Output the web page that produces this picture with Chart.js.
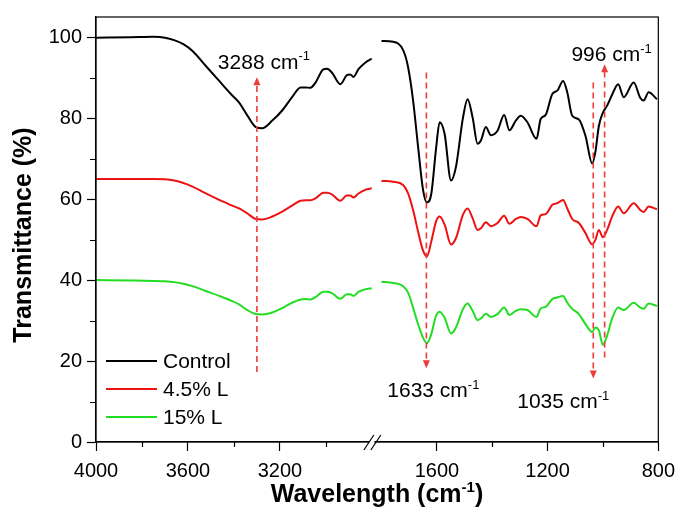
<!DOCTYPE html>
<html>
<head>
<meta charset="utf-8">
<script src="https://cdn.jsdelivr.net/npm/chart.js@4.4.1/dist/chart.umd.min.js"></script>
<style>
  html, body { margin: 0; padding: 0; background: #fff; }
</style>
</head>
<body>
<canvas id="myChart" width="683" height="523"></canvas>
<script>
const seriesNames = ['Control', '4.5% L', '15% L'];
const seriesColors = ['#000000', '#ee1111', '#22dd22'];

// 4000-2800 cm-1 part
const leftWavenumbers = [4000, 3850, 3750, 3700, 3660, 3620, 3580, 3522, 3464, 3407, 3378, 3342, 3305, 3277, 3233, 3190,
    3147, 3110, 3089, 3067, 3045, 3010, 2995, 2974, 2937, 2909, 2894, 2880, 2858, 2829, 2800];
const leftControl = [99.9, 100.0, 100.1, 99.9, 99.3, 98.3, 96.6, 92.9, 89.2, 85.6, 83.9, 80.7, 77.8, 77.5, 79.4, 81.9,
    85.2, 87.6, 87.6, 87.5, 88.8, 92.1, 92.2, 91.3, 88.4, 90.6, 90.8, 90.2, 92.1, 93.7, 94.7];
const left45 = [65.0, 65.0, 65.0, 64.9, 64.6, 64.0, 63.1, 61.4, 59.8, 58.4, 57.7, 56.5, 55.1, 55.0, 55.7, 56.9,
    58.4, 59.6, 59.7, 59.7, 60.2, 61.6, 61.6, 61.2, 59.6, 60.9, 60.9, 60.4, 61.4, 62.3, 62.7];
const left15 = [40.0, 39.9, 39.8, 39.7, 39.5, 39.1, 38.5, 37.3, 36.1, 34.8, 34.0, 32.6, 31.6, 31.5, 32.0, 33.1,
    34.4, 35.2, 35.3, 35.2, 35.8, 37.1, 37.1, 36.8, 35.4, 36.5, 36.5, 36.1, 37.1, 37.7, 38.0];

// 1800-800 cm-1 part
const rightWavenumbers = [1800, 1758, 1722, 1704, 1686, 1668, 1650, 1636, 1620, 1603, 1590, 1572, 1549, 1531,
    1506, 1489, 1471, 1453, 1441, 1423, 1405, 1381, 1357, 1338, 1315, 1297, 1273, 1240, 1225, 1207, 1183,
    1165, 1144, 1129, 1111, 1087, 1063, 1039, 1027, 1015, 1000, 985, 967, 945, 925, 889, 865, 853, 835, 805];
const rightControl = [99.1, 98.9, 96.8, 92.6, 84.4, 73.0, 62.3, 59.2, 61.4, 72.5, 79.0, 76.1, 64.6, 68.0,
    80.0, 84.7, 80.2, 73.7, 74.5, 77.8, 75.8, 76.9, 80.8, 77.0, 79.4, 80.6, 79.0, 74.9, 79.8, 80.8, 86.0,
    86.8, 89.2, 86.4, 80.6, 79.7, 75.6, 68.8, 71.8, 78.0, 81.4, 83.1, 85.8, 88.4, 85.2, 88.8, 85.0, 84.4, 86.4, 84.7];
const right45 = [64.5, 64.3, 63.5, 61.4, 57.3, 52.0, 47.3, 45.9, 49.6, 54.5, 55.7, 53.7, 48.8, 50.4,
    56.1, 57.7, 55.3, 52.4, 52.8, 54.3, 53.3, 54.1, 55.9, 53.9, 55.1, 55.6, 55.1, 53.3, 56.0, 56.3, 58.6,
    59.0, 59.8, 57.7, 55.1, 54.1, 51.6, 48.8, 50.0, 52.4, 50.6, 52.4, 55.7, 58.2, 56.5, 59.0, 57.3, 56.8, 58.2, 57.5];
const right15 = [39.6, 39.3, 38.5, 36.9, 33.2, 29.1, 25.8, 24.4, 26.7, 31.2, 32.2, 30.7, 26.8, 28.3,
    32.8, 34.2, 32.4, 30.1, 30.5, 31.7, 30.9, 31.6, 33.2, 31.4, 32.4, 32.8, 32.6, 30.9, 33.0, 33.4, 35.3,
    35.7, 36.1, 34.4, 32.9, 31.6, 29.1, 27.2, 28.3, 27.6, 24.0, 26.3, 30.5, 33.2, 32.6, 34.4, 33.2, 32.9, 34.2, 33.6];

const leftTicks = [4000, 3600, 3200];
const leftMinorTicks = [3800, 3400, 3000];
const rightTicks = [1600, 1200, 800];
const rightMinorTicks = [1400, 1000];
const yTicks = [0, 20, 40, 60, 80, 100];
const yMinorTicks = [10, 30, 50, 70, 90];

const peakWavenumbers = [3300, 1638, 1035, 994];
const peakLabels = ['3288', '1633', '1035', '996'];

// arrow geometry: axis, start/end transmittance, label offsets (px)
const arrowLayout = [
    { axis: 'xL', from: 17.3, to: 90.1, dx: 7, dy: -8 },
    { axis: 'xR', from: 91.3, to: 18.2, dx: 7, dy: 29 },
    { axis: 'xR', from: 88.8, to: 15.7, dx: -30, dy: 30 },
    { axis: 'xR', from: 20.9, to: 93.3, dx: 7, dy: -3 },
];

const FONT = "'Liberation Sans', Arial, Helvetica, sans-serif";
Chart.defaults.font.family = FONT;
Chart.defaults.color = '#000';

function makeSet(label, color, xs, ys, axis) {
    return {
        label: label,
        data: xs.map((x, i) => ({ x: x, y: ys[i] })),
        xAxisID: axis,
        yAxisID: 'y',
        borderColor: color,
        borderWidth: 2,
        pointRadius: 0,
        cubicInterpolationMode: 'monotone',
        fill: false,
    };
}

function supText(ctx, base, sup, tail, x, y, size, supSize, weight) {
    ctx.font = weight + ' ' + size + 'px ' + FONT;
    const wb = ctx.measureText(base).width;
    const wt = ctx.measureText(tail).width;
    ctx.font = weight + ' ' + supSize + 'px ' + FONT;
    const ws = ctx.measureText(sup).width;
    const x0 = x - (wb + ws + wt) / 2;
    ctx.textAlign = 'left';
    ctx.textBaseline = 'alphabetic';
    ctx.font = weight + ' ' + size + 'px ' + FONT;
    ctx.fillText(base, x0, y);
    ctx.font = weight + ' ' + supSize + 'px ' + FONT;
    ctx.fillText(sup, x0 + wb, y - size * 0.42);
    ctx.font = weight + ' ' + size + 'px ' + FONT;
    ctx.fillText(tail, x0 + wb + ws, y);
}

const decor = {
    id: 'decor',
    afterDraw(chart) {
        const ctx = chart.ctx;
        const a = chart.chartArea;
        const y = chart.scales.y;
        ctx.save();

        // frame
        ctx.strokeStyle = '#000';
        ctx.lineWidth = 1.2;
        ctx.strokeRect(a.left, a.top, a.right - a.left, a.bottom - a.top);

        // minor ticks
        ctx.beginPath();
        yMinorTicks.forEach(v => {
            const py = Math.round(y.getPixelForValue(v)) + 0.5;
            ctx.moveTo(a.left, py); ctx.lineTo(a.left - 6, py);
        });
        [['xL', leftMinorTicks], ['xR', rightMinorTicks]].forEach(([id, list]) => {
            list.forEach(v => {
                const px = Math.round(chart.scales[id].getPixelForValue(v)) + 0.5;
                ctx.moveTo(px, a.bottom); ctx.lineTo(px, a.bottom + 5);
            });
        });
        ctx.stroke();

        // axis break
        const bx = chart.scales.xL.right;
        ctx.fillStyle = '#fff';
        ctx.fillRect(bx - 2.5, a.bottom - 2, 5, 4);
        ctx.beginPath();
        ctx.moveTo(bx - 8, a.bottom + 8); ctx.lineTo(bx + 2, a.bottom - 7);
        ctx.moveTo(bx - 1, a.bottom + 8); ctx.lineTo(bx + 9, a.bottom - 7);
        ctx.stroke();

        // peak arrows
        peakWavenumbers.forEach((w, i) => {
            const L = arrowLayout[i];
            const px = chart.scales[L.axis].getPixelForValue(w);
            const y0 = y.getPixelForValue(L.from);
            const y1 = y.getPixelForValue(L.to);
            const dir = y1 < y0 ? 1 : -1;
            ctx.strokeStyle = '#ee3b3b';
            ctx.fillStyle = '#ee3b3b';
            ctx.lineWidth = 1.6;
            ctx.setLineDash([6, 4]);
            ctx.beginPath();
            ctx.moveTo(px, y0); ctx.lineTo(px, y1 + dir * 7);
            ctx.stroke();
            ctx.setLineDash([]);
            ctx.beginPath();
            ctx.moveTo(px, y1);
            ctx.lineTo(px - 3.5, y1 + dir * 8);
            ctx.lineTo(px + 3.5, y1 + dir * 8);
            ctx.closePath();
            ctx.fill();
            ctx.fillStyle = '#000';
            supText(ctx, peakLabels[i] + ' cm', '-1', '', px + L.dx, y1 + L.dy, 21, 13, 'normal');
        });

        // legend
        const ly = y.getPixelForValue(20);
        ctx.lineWidth = 2;
        ctx.font = '21px ' + FONT;
        ctx.textAlign = 'left';
        ctx.textBaseline = 'middle';
        seriesNames.forEach((name, i) => {
            const py = ly + i * 28;
            ctx.strokeStyle = seriesColors[i];
            ctx.beginPath();
            ctx.moveTo(a.left + 10, py); ctx.lineTo(a.left + 61, py);
            ctx.stroke();
            ctx.fillStyle = '#000';
            ctx.fillText(name, a.left + 67, py + 1);
        });

        // axis titles
        ctx.fillStyle = '#000';
        supText(ctx, 'Wavelength (cm', '-1', ')', 377, 502, 25, 15, 'bold');
        ctx.translate(24, 235);
        ctx.rotate(-Math.PI / 2);
        ctx.font = 'bold 25px ' + FONT;
        ctx.textAlign = 'center';
        ctx.textBaseline = 'middle';
        ctx.fillText('Transmittance (%)', 0, 0);
        ctx.restore();
    }
};

function xAxis(min, max, weight, ticks) {
    return {
        type: 'linear',
        position: 'bottom',
        stack: 'wn',
        stackWeight: weight,
        reverse: true,
        min: min,
        max: max,
        afterBuildTicks: s => { s.ticks = ticks.map(v => ({ value: v })); },
        afterFit: s => { s.height = 81; },
        grid: { drawOnChartArea: false, tickLength: 9, tickColor: '#000', tickWidth: 1.2 },
        border: { color: '#000', width: 1.2 },
        ticks: { font: { size: 20 }, color: '#000', padding: 8, maxRotation: 0, callback: v => String(v) },
    };
}

const ctx = document.getElementById('myChart').getContext('2d');
const myChart = new Chart(ctx, {
    type: 'line',
    data: {
        datasets: [
            makeSet(seriesNames[0], seriesColors[0], leftWavenumbers, leftControl, 'xL'),
            makeSet(seriesNames[1], seriesColors[1], leftWavenumbers, left45, 'xL'),
            makeSet(seriesNames[2], seriesColors[2], leftWavenumbers, left15, 'xL'),
            makeSet(seriesNames[0], seriesColors[0], rightWavenumbers, rightControl, 'xR'),
            makeSet(seriesNames[1], seriesColors[1], rightWavenumbers, right45, 'xR'),
            makeSet(seriesNames[2], seriesColors[2], rightWavenumbers, right15, 'xR'),
        ]
    },
    options: {
        responsive: false,
        animation: false,
        devicePixelRatio: 1,
        layout: { padding: { top: 15, right: 21, bottom: 0, left: 0 } },
        plugins: {
            legend: { display: false },
            tooltip: { enabled: false },
        },
        scales: {
            xL: xAxis(2800, 4000, 277.5, leftTicks),
            xR: xAxis(800, 1835, 288.2, rightTicks),
            y: {
                min: 0,
                max: 105,
                position: 'left',
                afterBuildTicks: s => { s.ticks = yTicks.map(v => ({ value: v })); },
                afterFit: s => { s.width = 96; },
                grid: { drawOnChartArea: false, tickLength: 9, tickColor: '#000', tickWidth: 1.2 },
                border: { color: '#000', width: 1.2 },
                ticks: { font: { size: 20 }, color: '#000', padding: 5 },
            },
        },
    },
    plugins: [decor],
});
</script>
</body>
</html>
